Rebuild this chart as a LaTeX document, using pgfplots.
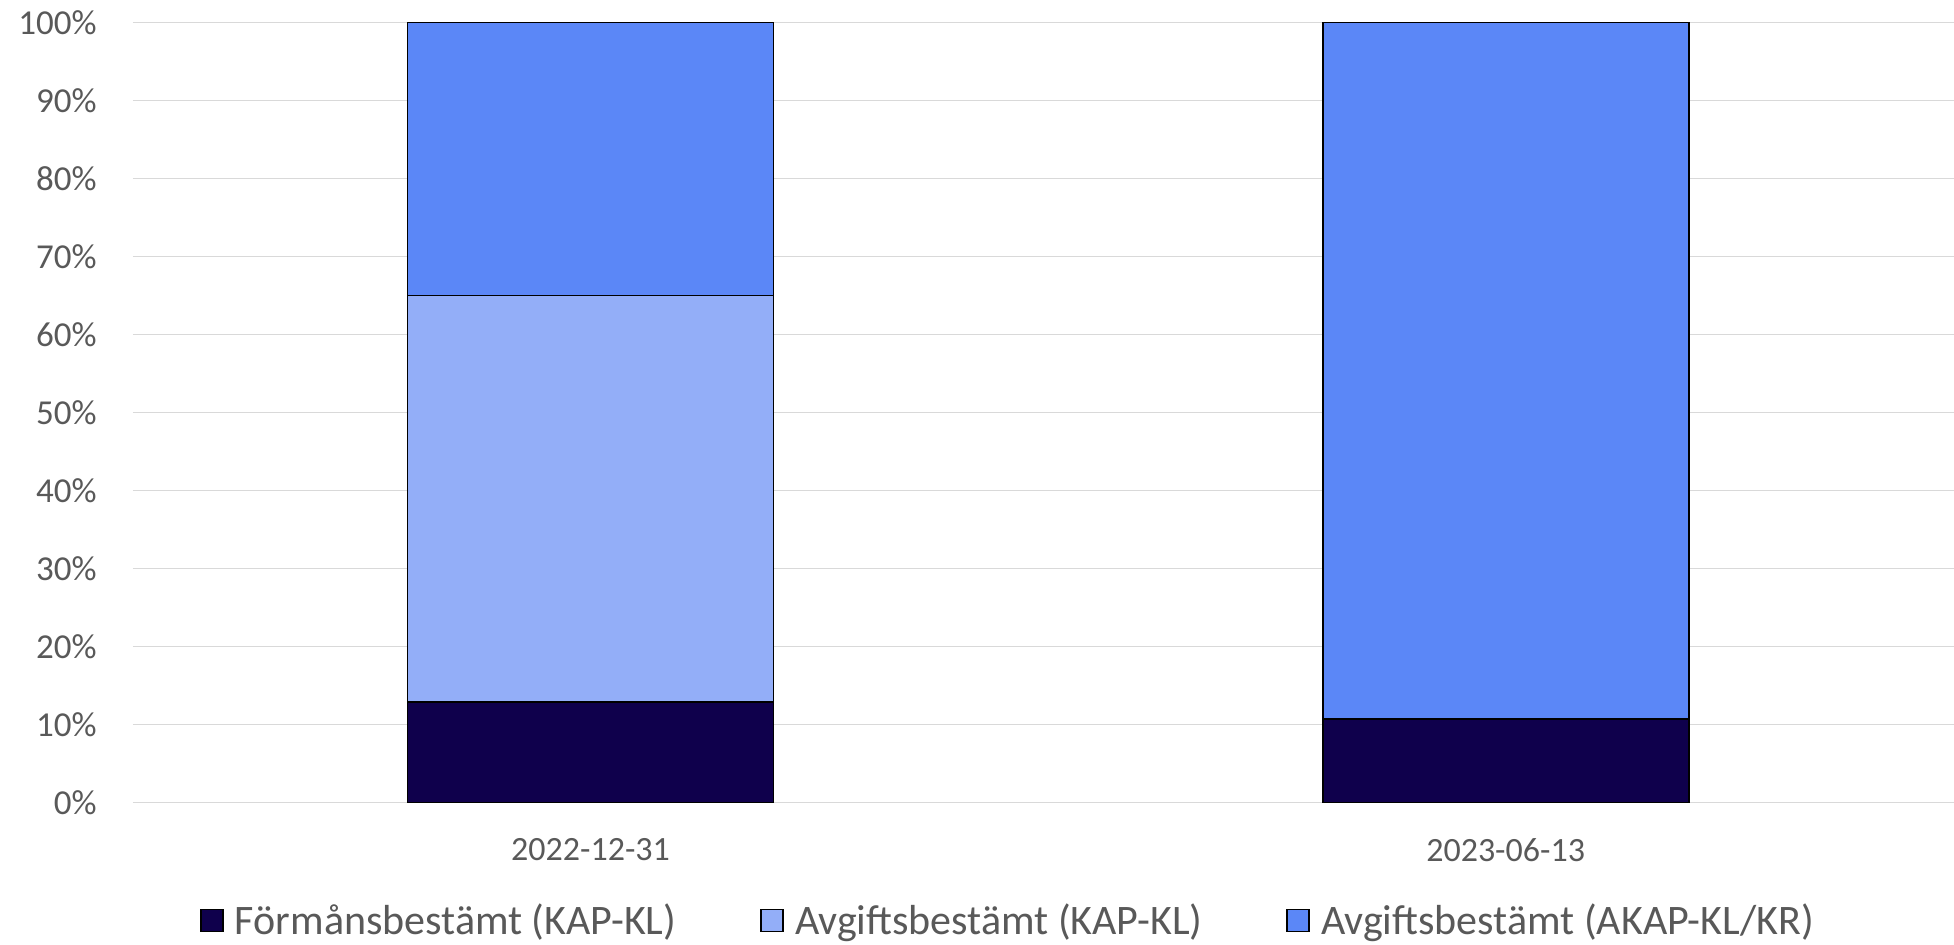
\documentclass[border=0pt]{standalone}
\usepackage{fontspec}
\setmainfont{Carlito}
\usepackage{pgfplots}
\pgfplotsset{compat=1.18}

\definecolor{navy}{HTML}{0F004C}
\definecolor{lightblue}{HTML}{93AEF8}
\definecolor{midblue}{HTML}{5B87F7}
\definecolor{ticktext}{HTML}{595959}
\definecolor{gridgray}{HTML}{D9D9D9}

\begin{document}
\begin{tikzpicture}
\begin{axis}[
  scale only axis,
  width=910.5pt, height=390pt,
  ybar stacked, bar width=0.4,
  xmin=-0.5, xmax=1.49,
  ymin=0, ymax=100,
  xtick=data, xticklabels={2022-12-31,2023-06-13},
  ytick={0,10,...,100},
  yticklabel={\pgfmathprintnumber{\tick}\%},
  /pgf/number format/assume math mode=true,
  ymajorgrids, grid style={gridgray, line width=0.9pt},
  axis line style={draw=none},
  major tick length=0pt,
  tick label style={font=\fontsize{17}{20}\selectfont, text=ticktext},
  yticklabel style={inner sep=0pt, xshift=-18pt, font=\fontsize{17.5}{20}\selectfont},
  xticklabel style={inner sep=0pt, yshift=-18pt},
  legend columns=-1,
  legend style={draw=none, at={(0.481,-59pt)}, anchor=center,
    font=\fontsize{21}{24}\selectfont, text=ticktext,
    /tikz/every odd column/.append style={column sep=3.5pt},
    /tikz/every even column/.append style={column sep=40pt}},
  legend image code/.code={\draw[#1] (0pt,-5.5pt) rectangle (11pt,5.5pt);},
]
\addplot[fill=navy, draw=black, line width=0.9pt] coordinates {(0,12.9) (1,10.7)};
\addlegendentry{Förmånsbestämt (KAP-KL)}
\addplot[fill=lightblue, draw=black, line width=0.9pt] coordinates {(0,52.1) (1,0)};
\addlegendentry{Avgiftsbestämt (KAP-KL)}
\addplot[fill=midblue, draw=black, line width=0.9pt, legend image post style={draw=none}] coordinates {(0,35.0) (1,89.3)};
\addlegendentry{Avgiftsbestämt (AKAP-KL/KR)}
\end{axis}
\pgfresetboundingbox
\path[use as bounding box] ([shift={(-66.5pt,-71pt)}]current axis.south west) rectangle ([shift={(910.5pt,401.2pt)}]current axis.south west);
\end{tikzpicture}
\end{document}
